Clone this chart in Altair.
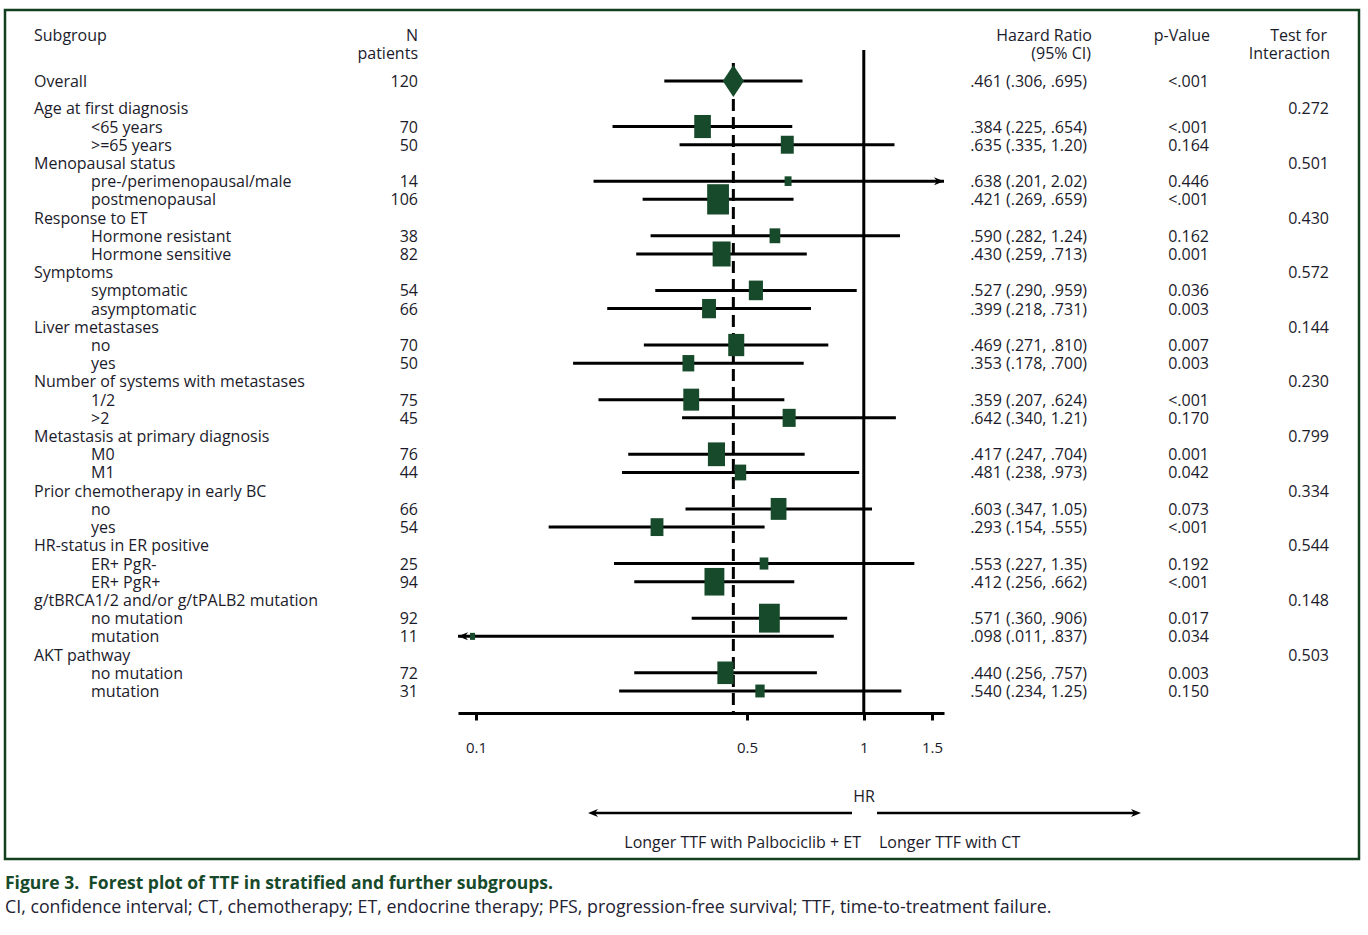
import altair as alt
import pandas as pd
import numpy as np

# ---------------- data ----------------
overall_label = "Overall"
overall_n = 120
overall_hr, overall_lo, overall_hi = 0.461, 0.306, 0.695
overall_p = "<.001"

group_names = ["Age at first diagnosis", "Menopausal status", "Response to ET", "Symptoms",
               "Liver metastases", "Number of systems with metastases",
               "Metastasis at primary diagnosis", "Prior chemotherapy in early BC",
               "HR-status in ER positive", "g/tBRCA1/2 and/or g/tPALB2 mutation", "AKT pathway"]
interaction_p = ["0.272", "0.501", "0.430", "0.572", "0.144", "0.230", "0.799", "0.334",
                 "0.544", "0.148", "0.503"]
sub_names = [["<65 years", ">=65 years"], ["pre-/perimenopausal/male", "postmenopausal"],
             ["Hormone resistant", "Hormone sensitive"], ["symptomatic", "asymptomatic"],
             ["no", "yes"], ["1/2", ">2"], ["M0", "M1"], ["no", "yes"],
             ["ER+ PgR-", "ER+ PgR+"], ["no mutation", "mutation"], ["no mutation", "mutation"]]
sub_n = [[70, 50], [14, 106], [38, 82], [54, 66], [70, 50], [75, 45], [76, 44], [66, 54],
         [25, 94], [92, 11], [72, 31]]
sub_hr = [[.384, .635], [.638, .421], [.590, .430], [.527, .399], [.469, .353], [.359, .642],
          [.417, .481], [.603, .293], [.553, .412], [.571, .098], [.440, .540]]
sub_lo = [[.225, .335], [.201, .269], [.282, .259], [.290, .218], [.271, .178], [.207, .340],
          [.247, .238], [.347, .154], [.227, .256], [.360, .011], [.256, .234]]
sub_hi = [[.654, 1.20], [2.02, .659], [1.24, .713], [.959, .731], [.810, .700], [.624, 1.21],
          [.704, .973], [1.05, .555], [1.35, .662], [.906, .837], [.757, 1.25]]
sub_p = [["<.001", "0.164"], ["0.446", "<.001"], ["0.162", "0.001"], ["0.036", "0.003"],
         ["0.007", "0.003"], ["<.001", "0.170"], ["0.001", "0.042"], ["0.073", "<.001"],
         ["0.192", "<.001"], ["0.017", "0.034"], ["0.003", "0.150"]]

axis_ticks = [0.1, 0.5, 1, 1.5]
col_headers = {"sub": "Subgroup", "n1": "N", "n2": "patients", "hr1": "Hazard Ratio",
               "hr2": "(95% CI)", "p": "p-Value", "i1": "Test for", "i2": "Interaction"}
left_note = "Longer TTF with Palbociclib + ET"
right_note = "Longer TTF with CT"
caption1 = "Figure 3.\u00a0 Forest plot of TTF in stratified and further subgroups."
caption2 = ("CI, confidence interval; CT, chemotherapy; ET, endocrine therapy; PFS, "
            "progression-free survival; TTF, time-to-treatment failure.")

# ---------------- build table ----------------
def fmt(v):
    s = f"{v:.3f}" if v < 1 else f"{v:.2f}"
    return s[1:] if s.startswith("0") else s

rows = [dict(label=overall_label, level=0, kind="overall", n=str(overall_n), hr=overall_hr,
             lo=overall_lo, hi=overall_hi, p=overall_p, inter="")]
for g, name in enumerate(group_names):
    rows.append(dict(label=name, level=0, kind="header", n="", hr=np.nan, lo=np.nan,
                     hi=np.nan, p="", inter=interaction_p[g]))
    for k in range(2):
        rows.append(dict(label=sub_names[g][k], level=1, kind="sub", n=str(sub_n[g][k]),
                         hr=sub_hr[g][k], lo=sub_lo[g][k], hi=sub_hi[g][k],
                         p=sub_p[g][k], inter=""))
df = pd.DataFrame(rows)
df["row"] = [0.0] + [0.5 + i for i in range(1, len(df))]
XMIN, XMAX = 0.0899, 1.61
df["lo_d"] = df["lo"].clip(lower=XMIN)
df["hi_d"] = df["hi"].clip(upper=XMAX)
df["hrtext"] = [f"{fmt(h)} ({fmt(l)}, {fmt(u)})" if not np.isnan(h) else ""
                for h, l, u in zip(df.hr, df.lo, df.hi)]
se = (np.log(df["hi"]) - np.log(df["lo"])) / 3.92
df["w"] = 1 / se ** 2
df["msize"] = (df["w"] + 4.7) ** 2
df["arrow_r"] = df["hi"] > XMAX
df["arrow_l"] = df["lo"] < XMIN
df["xmin"] = XMIN
df["xmax"] = XMAX

# ---------------- styling ----------------
FONT = "Open Sans"
TXT = "#1b1b2b"
GREEN = "#174a2a"
FS = 16
RECT = "M-0.72,-1L0.72,-1L0.72,1L-0.72,1Z"
DIAMOND = "M0,-1L0.66,0L0,1L-0.66,0Z"
ARR_R = "M0,0L-2,-0.8L-1.4,0L-2,0.8Z"
ARR_L = "M0,0L2,-0.8L1.4,0L2,0.8Z"

xs = alt.Scale(type="log", domain=[XMIN, XMAX], range=[458, 944], nice=False)
ys = alt.Scale(domain=[0, 33.5], range=[81, 691], nice=False, zero=False)
AX = alt.Axis(values=axis_ticks, format="~g", title=None, grid=False, domainWidth=3,
              domainColor="black", tickWidth=3, tickColor="black", tickSize=7,
              labelPadding=20, labelFontSize=15, labelFont=FONT, labelColor=TXT,
              labelFlush=False, labelOverlap=False)
X = lambda f: alt.X(f, scale=xs, axis=AX)
Y = alt.Y("row:Q", scale=ys, axis=None)

base = alt.Chart(df)
one = alt.Data(values=[{"a": 1}])
data_rows = base.transform_filter("datum.kind != 'header'")


def txt(text, x, y, align="left", size=FS, color=TXT, weight="normal", font=FONT):
    return alt.Chart(one).mark_text(text=text, align=align, baseline="middle", dy=1,
                                    fontSize=size, color=color, fontWeight=weight,
                                    font=font).encode(x=alt.value(x), y=alt.value(y))


frame = alt.Chart(one).mark_rect(fillOpacity=0, stroke="#12401f", strokeWidth=2.5).encode(
    x=alt.value(5), x2=alt.value(1359), y=alt.value(10), y2=alt.value(859))

ref1 = alt.Chart(one).mark_rule(color="black", strokeWidth=3).encode(
    x=alt.datum(1), y=alt.value(50), y2=alt.value(713))
refov = base.transform_filter("datum.kind == 'overall'").mark_rule(
    color="black", strokeWidth=3, strokeDash=[12, 6]).encode(
    x=X("hr:Q"), y=alt.value(63), y2=alt.value(713))

ci = data_rows.mark_rule(color="black", strokeWidth=3).encode(
    x=X("lo_d:Q"), x2="hi_d:Q", y=Y)
boxes = base.transform_filter("datum.kind == 'sub'").mark_point(
    shape=RECT, filled=True, fill=GREEN, opacity=1, strokeWidth=0).encode(
    x=X("hr:Q"), y=Y,
    size=alt.Size("msize:Q", scale=alt.Scale(type="linear", domain=[0, 1000],
                                             range=[0, 1613]), legend=None))
diamond = base.transform_filter("datum.kind == 'overall'").mark_point(
    shape=DIAMOND, filled=True, fill=GREEN, opacity=1, strokeWidth=0, size=1024).encode(
    x=X("hr:Q"), y=Y)
arr_r = base.transform_filter("datum.arrow_r").mark_point(
    shape=ARR_R, filled=True, fill="black", opacity=1, size=100).encode(x=X("xmax:Q"), y=Y)
arr_l = base.transform_filter("datum.arrow_l").mark_point(
    shape=ARR_L, filled=True, fill="black", opacity=1, size=100).encode(x=X("xmin:Q"), y=Y)

tkw = dict(baseline="middle", fontSize=FS, color=TXT, font=FONT, dy=1)
lab0 = base.transform_filter("datum.level == 0").mark_text(align="left", **tkw).encode(
    x=alt.value(34), y=Y, text="label:N")
lab1 = base.transform_filter("datum.level == 1").mark_text(align="left", **tkw).encode(
    x=alt.value(91), y=Y, text="label:N")
ncol = base.mark_text(align="right", **tkw).encode(x=alt.value(418), y=Y, text="n:N")
hrcol = base.mark_text(align="right", **tkw).encode(x=alt.value(1087), y=Y, text="hrtext:N")
pcol = base.mark_text(align="right", **tkw).encode(x=alt.value(1209), y=Y, text="p:N")
icol = base.mark_text(align="right", **tkw).encode(x=alt.value(1329), y=Y, text="inter:N")

heads = [
    txt(col_headers["sub"], 34, 35),
    txt(col_headers["n1"], 418, 35, "right"),
    txt(col_headers["n2"], 418, 53, "right"),
    txt(col_headers["hr1"], 1092, 35, "right"),
    txt(col_headers["hr2"], 1091, 53, "right"),
    txt(col_headers["p"], 1210, 35, "right"),
    txt(col_headers["i1"], 1327, 35, "right"),
    txt(col_headers["i2"], 1330, 53, "right"),
]

bottom = [
    txt("HR", 864, 796, "center"),
    alt.Chart(one).mark_rule(color="black", strokeWidth=2.5).encode(
        x=alt.value(594), x2=alt.value(852), y=alt.value(813)),
    alt.Chart(one).mark_rule(color="black", strokeWidth=2.5).encode(
        x=alt.value(877), x2=alt.value(1135), y=alt.value(813)),
    alt.Chart(one).mark_point(shape=ARR_L, filled=True, fill="black", opacity=1,
                              size=100).encode(x=alt.value(588), y=alt.value(813)),
    alt.Chart(one).mark_point(shape=ARR_R, filled=True, fill="black", opacity=1,
                              size=100).encode(x=alt.value(1141), y=alt.value(813)),
    txt(left_note, 861, 842, "right"),
    txt(right_note, 879, 842, "left"),
    txt(caption1, 5, 883, "left", size=17.5, color=GREEN, weight="bold"),
    txt(caption2, 5, 907, "left", size=17.8, color="#222233"),
]

chart = alt.layer(
    frame, ref1, refov, ci, boxes, diamond, arr_r, arr_l,
    lab0, lab1, ncol, hrcol, pcol, icol, *heads, *bottom
).properties(
    width=1368, height=713,
    padding={"left": 0, "right": 0, "top": 0, "bottom": 222},
    autosize=alt.AutoSizeParams(type="none"),
    background="white",
).configure_view(stroke=None)

chart.save("out.html", embed_options={"renderer": "svg", "actions": False})
